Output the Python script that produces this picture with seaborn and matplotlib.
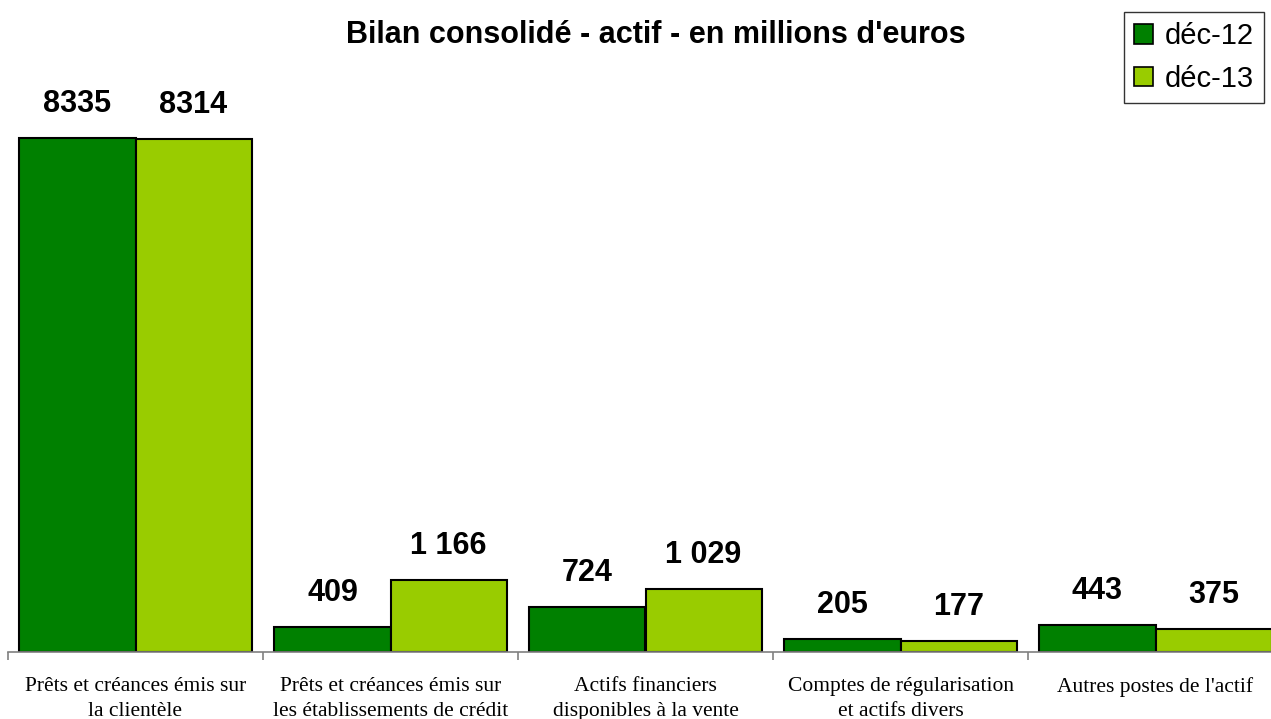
import pandas as pd
import matplotlib
matplotlib.use("Agg")
import matplotlib.pyplot as plt
from matplotlib.patches import Patch
import seaborn as sns

sns.set_style("white")
plt.rcParams["text.color"] = "black"
plt.rcParams["xtick.color"] = "black"

categories = ["Prêts et créances émis sur\nla clientèle",
              "Prêts et créances émis sur\nles établissements de crédit",
              "Actifs financiers\ndisponibles à la vente",
              "Comptes de régularisation\net actifs divers",
              "Autres postes de l'actif"]
series = ["déc-12", "déc-13"]
dec12 = [8335, 409, 724, 205, 443]
dec13 = [8314, 1166, 1029, 177, 375]
labels12 = ["8335", "409", "724", "205", "443"]
labels13 = ["8314", "1 166", "1 029", "177", "375"]
colors = ["#008000", "#99CC00"]

df = pd.DataFrame({
    "cat": categories * 2,
    "serie": [series[0]] * 5 + [series[1]] * 5,
    "val": dec12 + dec13,
})

fig = plt.figure(figsize=(12.71, 7.19), dpi=100)
ax = fig.add_axes([8 / 1271, 67 / 719, 1275 / 1271, 592 / 719])

sns.barplot(data=df, x="cat", y="val", hue="serie", palette=colors,
            width=0.91, edgecolor="black", linewidth=1.5, ax=ax,
            legend=False, saturation=1)

for cont, labs in zip(ax.containers, [labels12, labels13]):
    for bar, lab in zip(cont, labs):
        ax.annotate(lab, (bar.get_x() + bar.get_width() / 2, bar.get_height()),
                    xytext=(0, 19), textcoords="offset pixels",
                    ha="center", va="bottom", fontsize=22, fontweight="bold",
                    family="Liberation Sans", color="black")

ax.set_xlim(-0.5, 4.5)
ax.set_ylim(0, 9600)
ax.set_xlabel("")
ax.set_ylabel("")
ax.set_yticks([])
for s in ["top", "right", "left"]:
    ax.spines[s].set_visible(False)
ax.spines["bottom"].set_color("#808080")
ax.spines["bottom"].set_linewidth(1.2)

ax.set_xticks([-0.5, 0.5, 1.5, 2.5, 3.5, 4.5])
ax.set_xticklabels([])
ax.tick_params(axis="x", which="major", direction="out", length=6,
               color="#808080", width=1.2, bottom=True)
ax.set_xticks(range(5), minor=True)
ax.set_xticklabels(categories, minor=True, family="Liberation Serif",
                   fontsize=15.5, linespacing=1.45, color="black")
ax.tick_params(axis="x", which="minor", length=0, pad=18)

fig.text(0.516, 0.951, "Bilan consolidé - actif - en millions d'euros",
         ha="center", va="center", fontsize=22, fontweight="bold",
         family="Liberation Sans", color="black")

handles = [Patch(facecolor=c, edgecolor="black", linewidth=1.2) for c in colors]
fig.legend(handles, series, loc="upper right",
           bbox_to_anchor=(1264 / 1271, 1 - 12 / 719),
           prop={"family": "Liberation Sans", "size": 21},
           frameon=True, fancybox=False, edgecolor="black",
           handlelength=0.65, handleheight=0.65, handletextpad=0.4,
           labelspacing=0.5, borderpad=0.35, borderaxespad=0)

fig.savefig("out.png", dpi=100)
